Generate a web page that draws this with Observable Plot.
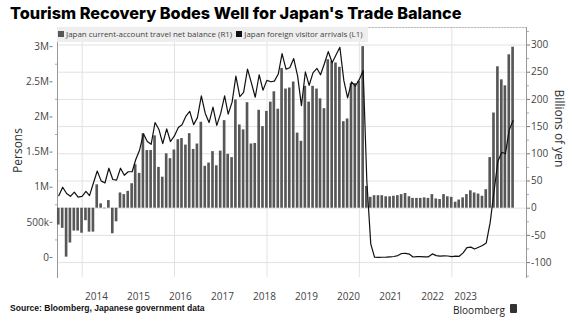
<!DOCTYPE html>
<html>
<head>
<meta charset="utf-8">
<script src="https://cdn.jsdelivr.net/npm/d3@7"></script>
<script src="https://cdn.jsdelivr.net/npm/@observablehq/plot@0.6"></script>
<style>
  html, body { margin: 0; padding: 0; background: #fff; }
  #wrap { position: relative; width: 572px; height: 322px; overflow: hidden; font-family: "Open Sans", "Noto Sans", sans-serif; color: #444; }
  #chart { position: absolute; left: 0; top: 0; }
  #title { position: absolute; left: 10px; top: 0px; font-family: Inter, "Liberation Sans", sans-serif; font-weight: 800; font-size: 18px; color: #000; white-space: nowrap; line-height: 26px; }
  #legend { position: absolute; left: 57px; top: 27px; width: 311px; height: 15px; background: #eeeeee; font-size: 8px; color: #444; white-space: nowrap; line-height: 15px; }
  #legend .inner { position: absolute; left: 1px; top: 0; }
  #legend .sw { display: inline-block; width: 6px; height: 6px; margin-right: 2px; vertical-align: 0px; }
  .ylab { position: absolute; font-size: 12px; color: #333; white-space: nowrap; }
  #source { position: absolute; left: 10px; top: 303px; font-family: "Liberation Sans", sans-serif; font-weight: bold; font-size: 8.5px; color: #111; white-space: nowrap; }
  #brand { position: absolute; left: 453px; top: 305px; font-size: 11px; line-height: 1; color: #222; white-space: nowrap; }
  #logo { position: absolute; left: 510px; top: 304px; width: 7px; height: 9px; background: #333; border-radius: 1px; }
</style>
</head>
<body>
<div id="wrap">
  <div id="chart"></div>
  <div id="title">Tourism Recovery Bodes Well for Japan's Trade Balance</div>
  <div id="legend"><span class="inner" id="legendInner"><span class="sw" style="background:#575757"></span>Japan current-account travel net balance (R1)&nbsp;&nbsp;<span class="sw" style="background:#111"></span>Japan foreign visitor arrivals (L1)</span></div>
  <div class="ylab" id="ylabL">Persons</div>
  <div class="ylab" id="ylabR">Billions of yen</div>
  <div id="source">Source: Bloomberg, Japanese government data</div>
  <div id="brand">Bloomberg</div>
  <div id="logo"></div>
</div>
<script>
// Monthly series, June 2013 .. April 2023
const firstYear = 2013, firstMonth = 5; // June (0-based)

// Japan current-account travel net balance, billions of yen (R1)
const balance = [
  -31, -37, -90, -64, -42, -42, -46,
  -23, -44, -44, 43, 8, -1, 14, -47, -25, 28, 25, 31,
  45, 80, 64, 137, 106, 106, 133, 75, 57, 100, 91, 107,
  126, 128, 116, 137, 108, 118, 158, 77, 83, 104, 78, 105,
  161, 99, 93, 199, 153, 144, 194, 118, 119, 180, 150, 178,
  195, 214, 182, 257, 219, 221, 232, 138, 123, 224, 195, 224,
  219, 201, 183, 273, 270, 267, 259, 159, 164, 229, 229, 233,
  297, 40, 20, 23, 23, 23, 21, 21, 22, 23, 25, 27,
  21, 18, 18, 18, 19, 18, 25, 17, 16, 25, 21, 20,
  11, 15, 19, 25, 32, 28, 26, 22, 34, 93, 175, 260,
  236, 225, 282, 296
];

// Japan foreign visitor arrivals, thousands of persons (L1)
const arrivals = [
  880, 1000, 910, 870, 930, 860, 870,
  940, 880, 1060, 1230, 1090, 1060, 1270, 1110, 1100, 1270, 1170, 1220,
  1220, 1390, 1530, 1760, 1650, 1610, 1920, 1820, 1620, 1830, 1650, 1730,
  1850, 1890, 2010, 2080, 1890, 1990, 2300, 2050, 1920, 2140, 1880, 2050,
  2300, 2040, 2210, 2580, 2290, 2350, 2680, 2480, 2280, 2600, 2380, 2520,
  2500, 2510, 2610, 2900, 2680, 2700, 2830, 2580, 2160, 2640, 2450, 2630,
  2690, 2600, 2760, 2930, 2770, 2880, 2990, 2520, 2270, 2500, 2440, 2530,
  2660, 1085, 194, 3, 2, 3, 4, 9, 14, 27, 57, 59,
  47, 7, 12, 11, 10, 9, 51, 26, 18, 22, 21, 12,
  18, 17, 66, 140, 147, 120, 145, 170, 207, 499, 935, 1370,
  1497, 1475, 1818, 1949
];

// Axis ticks
const yenTicks = [-100, -50, 0, 50, 100, 150, 200, 250, 300];
const yenMinor = [-125, -75, -25, 25, 75, 125, 175, 225, 275, 325];
const personTicks = [0, 500, 1000, 1500, 2000, 2500, 3000];           // thousands
const personLabels = ["0", "500k", "1M", "1.5M", "2M", "2.5M", "3M"];
const personMinor = [250, 750, 1250, 1750, 2250, 2750];
const gridYears = ["2014-01-01", "2016-01-01", "2018-01-01", "2020-01-01", "2022-01-01"];
const xLabels = ["2014", "2015", "2016", "2017", "2018", "2019", "2020", "2021", "2022", "2023"];
const xLabelDates = ["2014-04-24", "2015-03-22", "2016-02-16", "2017-01-14", "2017-12-12",
                     "2018-11-09", "2019-10-07", "2020-09-04", "2021-08-02", "2022-04-20"];

// Left axis (persons) expressed on the right axis (yen) scale
const toYen = p => -90.6 + 0.1292 * p;

const rows = balance.map((b, i) => ({
  date: new Date(Date.UTC(firstYear, firstMonth + i + 1, 0)),
  bal: b,
  arr: arrivals[i]
}));

const leftMap = new Map(personTicks.map((p, i) => [toYen(p), personLabels[i]]));
const xMap = new Map(xLabelDates.map((d, i) => [+new Date(d), xLabels[i]]));

const chart = Plot.plot({
  width: 572,
  height: 322,
  marginLeft: 57,
  marginRight: 46,
  marginTop: 27,
  marginBottom: 45,
  style: { fontFamily: '"Open Sans", "Noto Sans", sans-serif', fontSize: "10px", color: "#444", background: "transparent", overflow: "visible" },
  x: { type: "utc", domain: [new Date("2013-06-20"), new Date("2023-08-14")], label: null },
  y: { domain: [-127.4, 332.2], label: null },
  marks: [
    Plot.gridY(yenTicks, { stroke: "#e2e2e2", strokeOpacity: 1 }),
    Plot.gridX(gridYears.map(d => new Date(d)), { stroke: "#e2e2e2", strokeOpacity: 1 }),
    Plot.frame({ anchor: "top", stroke: "#bbb", strokeDasharray: "1.5,1.5" }),
    Plot.frame({ anchor: "left", stroke: "#999" }),
    Plot.frame({ anchor: "right", stroke: "#999" }),
    Plot.rectY(rows, {
      x1: d => d3.utcDay.offset(d.date, -14),
      x2: d => d3.utcDay.offset(d.date, 14),
      y: "bal",
      fill: "#575757",
      insetLeft: 0.45,
      insetRight: 0.45
    }),
    Plot.lineY(rows, { x: "date", y: d => toYen(d.arr), stroke: "#111", strokeWidth: 1.2 }),
    // right axis (billions of yen)
    Plot.axisY(yenTicks, { anchor: "right", tickSize: 3, tickPadding: 1.5, stroke: "#777", tickFormat: d => String(d), label: null }),
    Plot.axisY(yenMinor, { anchor: "right", tickSize: 2, stroke: "#aaa", tickFormat: () => "", label: null }),
    // left axis (persons)
    Plot.axisY(personTicks.map(toYen), { anchor: "left", tickSize: 3, tickPadding: 1, dx: -4.5, stroke: "#777", tickFormat: d => leftMap.get(d), label: null }),
    Plot.axisY(personMinor.map(toYen), { anchor: "left", tickSize: 2, stroke: "#aaa", tickFormat: () => "", label: null }),
    // x axis labels
    Plot.axisX(xLabelDates.map(d => new Date(d)), { anchor: "bottom", tickSize: 0, tickPadding: 15, tickFormat: d => xMap.get(+d), label: null })
  ]
});
document.getElementById("chart").appendChild(chart);

// fit text blocks to the widths they take in the reference
function fit(id, target) {
  const el = document.getElementById(id);
  const w = el.getBoundingClientRect().width;
  const fs = parseFloat(getComputedStyle(el).fontSize);
  if (w > 0) el.style.fontSize = (fs * target / w) + "px";
}
fit("title", 452);
fit("source", 195);
fit("brand", 52);
fit("legendInner", 305);

// rotated axis titles
const yl = document.getElementById("ylabL");
const ylw = yl.getBoundingClientRect().width, ylh = yl.getBoundingClientRect().height;
yl.style.left = (17 - ylw / 2) + "px";
yl.style.top = (150 - ylh / 2) + "px";
yl.style.transform = "rotate(-90deg)";
const yr = document.getElementById("ylabR");
const yrw = yr.getBoundingClientRect().width, yrh = yr.getBoundingClientRect().height;
yr.style.left = (560 - yrw / 2) + "px";
yr.style.top = (128 - yrh / 2) + "px";
yr.style.transform = "rotate(90deg)";
</script>
</body>
</html>
